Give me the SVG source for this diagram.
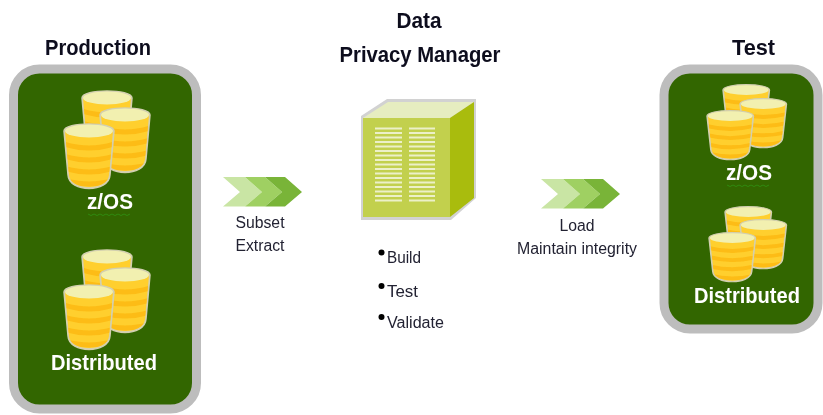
<svg xmlns="http://www.w3.org/2000/svg" width="823" height="415" viewBox="0 0 823 415">
<style>
text{font-family:"Liberation Sans",Arial,sans-serif;fill:#1a1a2a}
.h{font-weight:bold;font-size:21.500px;fill:#0a0a1e}
.w{font-weight:bold;font-size:22.500px;fill:#fff}
.s{font-size:16px;fill:#222232}
.panel{fill:#336600;stroke:#bdbdbd;stroke-width:9}
.sq{fill:none;stroke:#2f8a12;stroke-width:1}
.dot{fill:#000}
.ln{fill:#ecf0c8}
.soft{filter:url(#soft)}
</style>
<defs>
<filter id="soft" x="-5%" y="-5%" width="110%" height="110%"><feGaussianBlur stdDeviation="0.4"/></filter>
<clipPath id="cb"><path d="M1 8 L5 52 C6 68 44 68 45 52 L49 8 Z"/></clipPath>
<g id="cyl">
<path d="M0 8 C0 -1.500 50 -1.500 50 8 L46 52 C45 70 5 70 4 52 Z" fill="#d8d3a8" stroke="#d2cfb0" stroke-width="1.500"/>
<path d="M1 8 L5 52 C6 68 44 68 45 52 L49 8 Z" fill="#ffcf2e"/>
<g clip-path="url(#cb)" fill="none" stroke="#fdbc16" stroke-width="5">
<path d="M0 21 Q25 29 50 21"/>
<path d="M0 33 Q25 41 50 33"/>
<path d="M0 45 Q25 53 50 45"/>
<path d="M0 57 Q25 65 50 57"/>
</g>
<ellipse cx="25" cy="8" rx="24" ry="6.500" fill="#f2f0b0"/>
</g>
<g id="chev">
<path d="M0 0 H22 L39 15 L22 29.500 H0 L17 15 Z" fill="#c9e5a4"/>
<path d="M22 0 H42 L59 15 L42 29.500 H22 L39 15 Z" fill="#9fd062"/>
<path d="M42 0 H62 L79 15 L62 29.500 H42 L59 15 Z" fill="#79b438"/>
</g>
</defs>
<g id="connectors" class="soft">
<use href="#chev" x="223" y="177"/>
<use href="#chev" x="541" y="179"/>
</g>
<g id="production" class="soft">
<text class="h" x="98" y="55" text-anchor="middle" textLength="106" lengthAdjust="spacingAndGlyphs">Production</text>
<rect class="panel" x="13.500" y="69" width="183" height="340" rx="26"/>
<use href="#cyl" x="82" y="90"/>
<use href="#cyl" x="100" y="107"/>
<use href="#cyl" x="64" y="123"/>
<text class="w" x="110" y="209" text-anchor="middle" textLength="46" lengthAdjust="spacingAndGlyphs">z/OS</text>
<path class="sq" d="M88 214 l3 1.500 l3 -1.500 l3 1.500 l3 -1.500 l3 1.500 l3 -1.500 l3 1.500 l3 -1.500 l3 1.500 l3 -1.500 l3 1.500 l3 -1.500 l3 1.500 l3 -1.500"/>
<use href="#cyl" x="82" y="249"/>
<use href="#cyl" x="100" y="267"/>
<use href="#cyl" x="64" y="284"/>
<text class="w" x="104" y="370" text-anchor="middle" textLength="106" lengthAdjust="spacingAndGlyphs">Distributed</text>
</g>
<g id="manager" class="soft">
<text class="h" x="419" y="28" text-anchor="middle" textLength="45" lengthAdjust="spacingAndGlyphs">Data</text>
<text class="h" x="420" y="62" text-anchor="middle" textLength="161" lengthAdjust="spacingAndGlyphs">Privacy Manager</text>
<path d="M361 116 L387 99 H476 V198 L451 220 H361 Z" fill="#d2d2d2"/>
<path d="M363 118 L388 102 H474 L450 118 Z" fill="#e6edc0"/>
<path d="M450 118 L474 102 V198 L450 217 Z" fill="#a9bc08"/>
<rect x="363" y="118" width="87" height="99" fill="#c2d04e"/>
<path class="ln" d="M375 127.500h27v2h-27zM409 127.500h26v2h-26zM375 132h27v2h-27zM409 132h26v2h-26zM375 136.500h27v2h-27zM409 136.500h26v2h-26zM375 141h27v2h-27zM409 141h26v2h-26zM375 145.500h27v2h-27zM409 145.500h26v2h-26zM375 150h27v2h-27zM409 150h26v2h-26zM375 154.500h27v2h-27zM409 154.500h26v2h-26zM375 159h27v2h-27zM409 159h26v2h-26zM375 163.500h27v2h-27zM409 163.500h26v2h-26zM375 168h27v2h-27zM409 168h26v2h-26zM375 172.500h27v2h-27zM409 172.500h26v2h-26zM375 177h27v2h-27zM409 177h26v2h-26zM375 181.500h27v2h-27zM409 181.500h26v2h-26zM375 186h27v2h-27zM409 186h26v2h-26zM375 190.500h27v2h-27zM409 190.500h26v2h-26zM375 195h27v2h-27zM409 195h26v2h-26zM375 199.500h27v2h-27zM409 199.500h26v2h-26z"/>
<circle class="dot" cx="381.500" cy="252.500" r="3"/>
<text class="s" x="387" y="263" textLength="34" lengthAdjust="spacingAndGlyphs">Build</text>
<circle class="dot" cx="381.500" cy="286" r="3"/>
<text class="s" x="387" y="297" textLength="31" lengthAdjust="spacingAndGlyphs">Test</text>
<circle class="dot" cx="381.500" cy="317" r="3"/>
<text class="s" x="387" y="328" textLength="57" lengthAdjust="spacingAndGlyphs">Validate</text>
</g>
<g id="labels" class="soft">
<text class="s" x="260" y="228" text-anchor="middle" textLength="49" lengthAdjust="spacingAndGlyphs">Subset</text>
<text class="s" x="260" y="251" text-anchor="middle" textLength="49" lengthAdjust="spacingAndGlyphs">Extract</text>
<text class="s" x="577" y="231" text-anchor="middle" textLength="35" lengthAdjust="spacingAndGlyphs">Load</text>
<text class="s" x="577" y="254" text-anchor="middle" textLength="120" lengthAdjust="spacingAndGlyphs">Maintain integrity</text>
</g>
<g id="test" class="soft">
<text class="h" x="753.500" y="55" text-anchor="middle" textLength="43" lengthAdjust="spacingAndGlyphs">Test</text>
<rect class="panel" x="664" y="69" width="154" height="260" rx="26"/>
<g transform="translate(723 84) scale(.93 .76)"><use href="#cyl"/></g>
<g transform="translate(740 98) scale(.93 .76)"><use href="#cyl"/></g>
<g transform="translate(707 110) scale(.93 .76)"><use href="#cyl"/></g>
<text class="w" x="749" y="180" text-anchor="middle" textLength="46" lengthAdjust="spacingAndGlyphs">z/OS</text>
<path class="sq" d="M727 185 l3 1.500 l3 -1.500 l3 1.500 l3 -1.500 l3 1.500 l3 -1.500 l3 1.500 l3 -1.500 l3 1.500 l3 -1.500 l3 1.500 l3 -1.500 l3 1.500 l3 -1.500"/>
<g transform="translate(725 206) scale(.93 .76)"><use href="#cyl"/></g>
<g transform="translate(740 219) scale(.93 .76)"><use href="#cyl"/></g>
<g transform="translate(709 232) scale(.93 .76)"><use href="#cyl"/></g>
<text class="w" x="747" y="303" text-anchor="middle" textLength="106" lengthAdjust="spacingAndGlyphs">Distributed</text>
</g>
</svg>
